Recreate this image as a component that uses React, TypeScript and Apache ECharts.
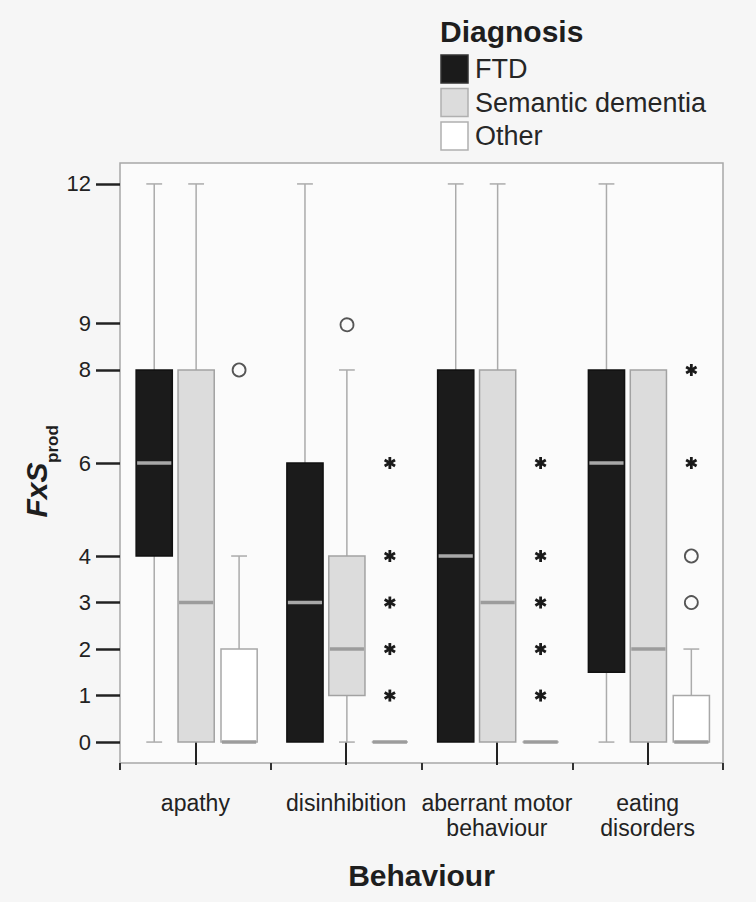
import React, { useEffect, useRef } from 'react';
import * as echarts from 'echarts';

const categories = ['apathy', 'disinhibition', 'aberrant motor\nbehaviour', 'eating\ndisorders'];
const groups = ['FTD', 'Semantic dementia', 'Other'];
const yTicks = [0, 1, 2, 3, 4, 6, 8, 9, 12];

// [min, Q1, median, Q3, max] per behaviour
const ftdStats = [[0, 4, 6, 8, 12], [0, 0, 3, 6, 12], [0, 0, 4, 8, 12], [0, 1.5, 6, 8, 12]];
const sdStats = [[0, 0, 3, 8, 12], [0, 1, 2, 4, 8], [0, 0, 3, 8, 12], [0, 0, 2, 8, 8]];
const otherStats = [[0, 0, 0, 2, 4], [0, 0, 0, 0, 0], [0, 0, 0, 0, 0], [0, 0, 0, 1, 2]];

// [behaviour index, value]
const sdOutliers = [[1, 9]];
const otherOutliers = [[0, 8], [3, 3], [3, 4]];
const otherExtremes = [
  [1, 1], [1, 2], [1, 3], [1, 4], [1, 6],
  [2, 1], [2, 2], [2, 3], [2, 4], [2, 6],
  [3, 6], [3, 8],
];

const FONT = "'Liberation Sans', Arial, Helvetica, sans-serif";

const groupStyles = [
  { fill: '#1b1b1b', stroke: '#111111', median: '#a8a8a8', offset: -0.273 },
  { fill: '#dcdcdc', stroke: '#a2a2a2', median: '#9c9c9c', offset: 0.005 },
  { fill: '#ffffff', stroke: '#a8a8a8', median: '#9c9c9c', offset: 0.29 },
];

function boxRenderer(gi: number) {
  const st = groupStyles[gi];
  return (params: any, api: any) => {
    const ci = api.value(0);
    const band = api.size([1, 1], [ci, 0])[0];
    const cx = api.coord([ci, 0])[0] + st.offset * band;
    const w = band * 0.24;
    const capW = band * 0.105;
    const y = (v: number) => api.coord([ci, v])[1];
    const mn = api.value(1), q1 = api.value(2), md = api.value(3), q3 = api.value(4), mx = api.value(5);
    const wStyle = { stroke: '#ababab', lineWidth: 1.5 };
    const children: any[] = [];
    if (mx > q3) {
      children.push({ type: 'line', shape: { x1: cx, y1: y(q3), x2: cx, y2: y(mx) }, style: wStyle });
      children.push({ type: 'line', shape: { x1: cx - capW / 2, y1: y(mx), x2: cx + capW / 2, y2: y(mx) }, style: wStyle });
    }
    if (mn < q1) {
      children.push({ type: 'line', shape: { x1: cx, y1: y(q1), x2: cx, y2: y(mn) }, style: wStyle });
      children.push({ type: 'line', shape: { x1: cx - capW / 2, y1: y(mn), x2: cx + capW / 2, y2: y(mn) }, style: wStyle });
    }
    children.push({
      type: 'rect',
      shape: { x: cx - w / 2, y: y(q3), width: w, height: y(q1) - y(q3) },
      style: { fill: st.fill, stroke: st.stroke, lineWidth: 1.5 },
    });
    children.push({
      type: 'line',
      shape: { x1: cx - w / 2 + 1, y1: y(md), x2: cx + w / 2 - 1, y2: y(md) },
      style: { stroke: st.median, lineWidth: 3.5 },
    });
    return { type: 'group', children };
  };
}

function circleRenderer(gi: number) {
  const st = groupStyles[gi];
  return (params: any, api: any) => {
    const ci = api.value(0);
    const v = api.value(1);
    const band = api.size([1, 1], [ci, v])[0];
    const p = api.coord([ci, v]);
    return {
      type: 'circle',
      shape: { cx: p[0] + st.offset * band, cy: p[1], r: 6.5 },
      style: { fill: 'none', stroke: '#555555', lineWidth: 1.8 },
    };
  };
}

function asteriskRenderer(gi: number) {
  const st = groupStyles[gi];
  return (params: any, api: any) => {
    const ci = api.value(0);
    const v = api.value(1);
    const band = api.size([1, 1], [ci, v])[0];
    const p = api.coord([ci, v]);
    const cx = p[0] + st.offset * band;
    const cy = p[1];
    const r = 6;
    const children = [90, 30, 150].map((deg) => {
      const a = (deg * Math.PI) / 180;
      return {
        type: 'line',
        shape: { x1: cx - r * Math.cos(a), y1: cy - r * Math.sin(a), x2: cx + r * Math.cos(a), y2: cy + r * Math.sin(a) },
        style: { stroke: '#1a1a1a', lineWidth: 2.8 },
      };
    });
    return { type: 'group', children };
  };
}

export default function App() {
  const ref = useRef<HTMLDivElement>(null);

  useEffect(() => {
    if (!ref.current) return;
    const chart = echarts.init(ref.current, undefined, { renderer: 'svg' });

    const statsList = [ftdStats, sdStats, otherStats];
    const boxSeries = statsList.map((stats, gi) => ({
      type: 'custom',
      name: groups[gi],
      xAxisIndex: 0,
      yAxisIndex: 0,
      renderItem: boxRenderer(gi),
      encode: { x: 0, y: [1, 2, 3, 4, 5] },
      data: stats.map((s, i) => [i, ...s]),
      z: 2,
    }));

    const swatchStyles = [
      { fill: '#1b1b1b', stroke: '#333333' },
      { fill: '#dcdcdc', stroke: '#b0b0b0' },
      { fill: '#ffffff', stroke: '#b0b0b0' },
    ];
    const legendGraphics: any[] = [
      {
        type: 'text',
        left: 440,
        top: 16,
        style: { text: 'Diagnosis', font: `bold 30px ${FONT}`, fill: '#1e1e1e' },
      },
    ];
    groups.forEach((g, i) => {
      const top = 55 + i * 33.5;
      legendGraphics.push({
        type: 'rect',
        shape: { x: 441, y: top, width: 27, height: 28 },
        style: { fill: swatchStyles[i].fill, stroke: swatchStyles[i].stroke, lineWidth: 1.5 },
      });
      legendGraphics.push({
        type: 'text',
        x: 475,
        y: top + 14,
        style: { text: g, font: `27px ${FONT}`, fill: '#262626', verticalAlign: 'middle', align: 'left' },
      });
    });

    const option: any = {
      animation: false,
      backgroundColor: '#f6f6f6',
      textStyle: { fontFamily: FONT },
      grid: {
        left: 120,
        top: 163,
        right: 33,
        bottom: 139,
        show: true,
        borderColor: '#a8a8a8',
        borderWidth: 1.5,
        backgroundColor: '#fbfbfb',
      },
      xAxis: [
        {
          type: 'category',
          data: categories,
          position: 'bottom',
          axisLine: { show: false },
          axisTick: { show: true, alignWithLabel: true, length: 23, lineStyle: { color: '#222', width: 2 } },
          axisLabel: { interval: 0, margin: 27, fontSize: 23, lineHeight: 25, color: '#222', fontFamily: FONT },
          splitLine: { show: false },
          name: 'Behaviour',
          nameLocation: 'middle',
          nameGap: 97,
          nameTextStyle: { fontSize: 30, fontWeight: 'bold', color: '#1e1e1e', fontFamily: FONT },
        },
        {
          type: 'category',
          data: categories,
          position: 'bottom',
          axisLine: { show: false },
          axisTick: { show: true, interval: 0, length: 7, lineStyle: { color: '#333', width: 2 } },
          axisLabel: { show: false },
          splitLine: { show: false },
        },
      ],
      yAxis: {
        type: 'value',
        min: -0.45,
        max: 12.45,
        axisLine: { show: false },
        axisTick: { show: true, length: 24, customValues: yTicks, lineStyle: { color: '#222', width: 2.5 } },
        axisLabel: { customValues: yTicks, margin: 29, fontSize: 22, color: '#222', fontFamily: FONT },
        splitLine: { show: false },
      },
      graphic: [
        ...legendGraphics,
        {
          type: 'text',
          x: 36.5,
          y: 490,
          rotation: Math.PI / 2,
          style: { text: 'FxS', font: `italic bold 30px ${FONT}`, fill: '#1e1e1e', align: 'center', verticalAlign: 'middle' },
        },
        {
          type: 'text',
          x: 52,
          y: 444,
          rotation: Math.PI / 2,
          style: { text: 'prod', font: `bold 17px ${FONT}`, fill: '#1e1e1e', align: 'center', verticalAlign: 'middle' },
        },
      ],
      series: [
        ...boxSeries,
        {
          type: 'custom',
          name: 'SD outliers',
          renderItem: circleRenderer(1),
          encode: { x: 0, y: 1 },
          data: sdOutliers,
          z: 3,
        },
        {
          type: 'custom',
          name: 'Other outliers',
          renderItem: circleRenderer(2),
          encode: { x: 0, y: 1 },
          data: otherOutliers,
          z: 3,
        },
        {
          type: 'custom',
          name: 'Other extremes',
          renderItem: asteriskRenderer(2),
          encode: { x: 0, y: 1 },
          data: otherExtremes,
          z: 3,
        },
      ],
    };

    chart.setOption(option);
    return () => chart.dispose();
  }, []);

  return (
    <div
      ref={ref}
      style={{ position: 'fixed', left: 0, top: 0, width: 756, height: 902 }}
    />
  );
}
